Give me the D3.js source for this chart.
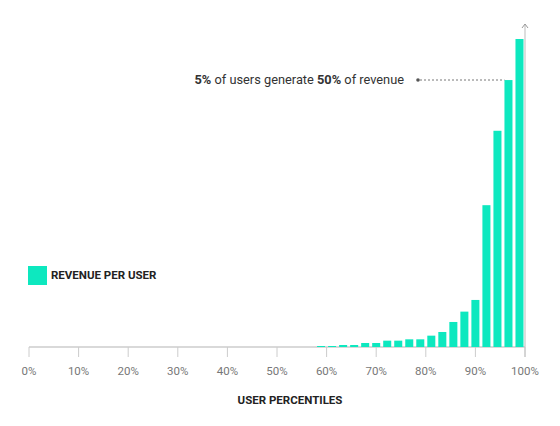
<!DOCTYPE html>
<html><head><meta charset="utf-8">
<script src="https://cdn.jsdelivr.net/npm/d3@7"></script>
<style>body{margin:0;background:#fff}text{font-family:Roboto,sans-serif}</style>
</head><body><svg id="c" width="560" height="426"></svg>
<script>
const nBins = 45;
const values = [0,0,0,0,0,0,0,0,0,0,0,0,0,0,0,0,0,0,0,0,0,0,0,0,0,0,
  3,3,6,6,12,12,19,19,23,23,34,45,75,106,141,425,648,800,923];
const tickLabels = ["0%","10%","20%","30%","40%","50%","60%","70%","80%","90%","100%"];
const tickValues = [0,10,20,30,40,50,60,70,80,90,100];
const color = "#0de8bf";

const svg = d3.select("#c");
const x = d3.scaleLinear().domain([0,100]).range([29,525]);
const y = d3.scaleLinear().domain([0,968]).range([347,24]);
const bw = 100/nBins;

svg.append("line").attr("x1",x(0)).attr("x2",x(100)).attr("y1",y(0)).attr("y2",y(0)).attr("stroke","#ccc").attr("stroke-width",1.5);
svg.append("line").attr("x1",x(100)).attr("x2",x(100)).attr("y1",y(0)+10).attr("y2",y(968)).attr("stroke","#bbb");
svg.append("path").attr("d",`M${x(100)-3},${y(968)+4}L${x(100)},${y(968)}L${x(100)+3},${y(968)+4}`).attr("fill","none").attr("stroke","#999");

svg.selectAll("rect.b").data(values).join("rect").attr("class","b")
  .attr("x",(d,i)=>x(i*bw)+1.5).attr("width",x(bw)-x(0)-3)
  .attr("y",d=>y(d)).attr("height",d=>y(0)-y(d)).attr("fill",color);

const g = svg.append("g");
g.selectAll("line.t").data(tickValues).join("line").attr("class","t")
  .attr("x1",d=>x(d)).attr("x2",d=>x(d)).attr("y1",y(0)).attr("y2",y(0)+10).attr("stroke","#ccc");
g.selectAll("text").data(tickValues).join("text")
  .attr("x",d=>x(d)).attr("y",375).attr("text-anchor","middle")
  .attr("font-size",11.5).attr("fill","#777").text((d,i)=>tickLabels[i]);

svg.append("text").attr("x",290).attr("y",404).attr("text-anchor","middle")
  .attr("font-size",11.5).attr("font-weight","bold").attr("fill","#222").text("USER PERCENTILES");

svg.append("rect").attr("x",28).attr("y",266).attr("width",19).attr("height",19).attr("fill",color);
svg.append("text").attr("x",51).attr("y",279).attr("font-size",11.5).attr("font-weight","bold").attr("fill","#222").text("REVENUE PER USER");

svg.append("circle").attr("cx",418).attr("cy",80).attr("r",1.8).attr("fill","#555");
svg.append("line").attr("x1",420).attr("x2",x(43*bw)+1.5).attr("y1",80).attr("y2",80)
  .attr("stroke","#777").attr("stroke-dasharray","2,2");
const t = svg.append("text").attr("x",404).attr("y",84).attr("text-anchor","end").attr("font-size",12.8).attr("fill","#333");
t.append("tspan").attr("font-weight","bold").text("5%");
t.append("tspan").text(" of users generate ");
t.append("tspan").attr("font-weight","bold").text("50%");
t.append("tspan").text(" of revenue");
</script></body></html>
